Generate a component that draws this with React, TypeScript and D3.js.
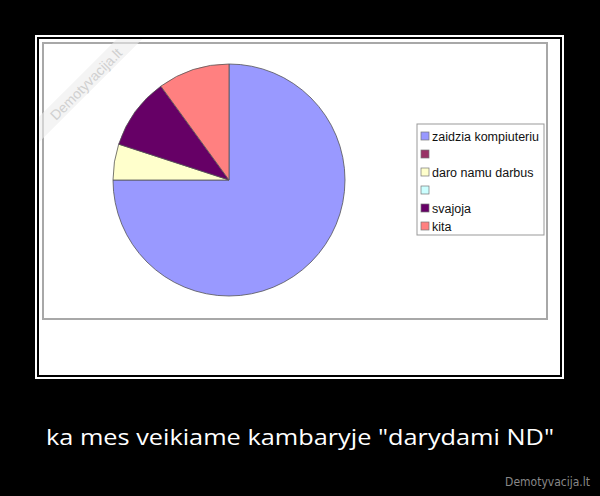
import { useEffect, useRef } from "react";
import * as d3 from "d3";

const categories = ["zaidzia kompiuteriu", "", "daro namu darbus", "", "svajoja", "kita"];
const values = [75, 0, 5, 0, 10, 10];
const colors = ["#9999FF", "#993366", "#FFFFCC", "#CCFFFF", "#660066", "#FF8080"];
const caption = 'ka mes veikiame kambaryje "darydami ND"';
const siteName = "Demotyvacija.lt";

export default function App() {
    const ref = useRef<SVGSVGElement | null>(null);

    useEffect(() => {
        const svg = d3.select(ref.current);
        svg.selectAll("*").remove();

        // black poster background
        svg.append("rect").attr("width", 600).attr("height", 496).attr("fill", "#000");

        // white frame line + white panel
        svg.append("rect")
            .attr("x", 36).attr("y", 36).attr("width", 527).attr("height", 342)
            .attr("fill", "none").attr("stroke", "#fff").attr("stroke-width", 2);
        svg.append("rect")
            .attr("x", 39).attr("y", 39).attr("width", 521).attr("height", 336)
            .attr("fill", "#fff");

        svg.append("clipPath").attr("id", "panel")
            .append("rect").attr("x", 39).attr("y", 39).attr("width", 521).attr("height", 336);

        // chart area border
        svg.append("rect")
            .attr("x", 43).attr("y", 43).attr("width", 504).attr("height", 276)
            .attr("fill", "none").attr("stroke", "#a8a8a8").attr("stroke-width", 2);

        // pie
        const cx = 229, cy = 180, r = 116;
        const data = categories.map((c, i) => ({ name: c, value: values[i], color: colors[i] }));
        const pie = d3.pie<any>().value((d: any) => d.value).sort(null).startAngle(0).endAngle(2 * Math.PI);
        const arc = d3.arc<any>().innerRadius(0).outerRadius(r);

        svg.append("g")
            .attr("transform", `translate(${cx},${cy})`)
            .selectAll("path")
            .data(pie(data).filter((d) => d.data.value > 0))
            .join("path")
            .attr("d", arc)
            .attr("fill", (d) => d.data.color)
            .attr("stroke", "#555")
            .attr("stroke-width", 0.8);

        // legend
        const lx = 417, ly = 124, lw = 127, lh = 111;
        svg.append("rect")
            .attr("x", lx).attr("y", ly).attr("width", lw).attr("height", lh)
            .attr("fill", "#fff").attr("stroke", "#999").attr("stroke-width", 1);

        const rowY = d3.scaleLinear().domain([0, categories.length - 1]).range([136, 226]);
        const items = svg.append("g")
            .selectAll("g")
            .data(data)
            .join("g")
            .attr("transform", (d, i) => `translate(${lx + 4},${rowY(i)})`);
        items.append("rect")
            .attr("x", 0).attr("y", -4).attr("width", 8).attr("height", 8)
            .attr("fill", (d) => d.color).attr("stroke", "#777").attr("stroke-width", 0.7);
        items.append("text")
            .attr("x", 11).attr("y", 4.5)
            .attr("font-family", "Arial, 'Liberation Sans', sans-serif")
            .attr("font-size", 12.5)
            .attr("fill", "#111")
            .text((d) => d.name);

        // watermark band in the corner
        const wm = svg.append("g").attr("clip-path", "url(#panel)")
            .append("g").attr("transform", "translate(86,84) rotate(-45)");
        wm.append("rect")
            .attr("x", -90).attr("y", -10).attr("width", 180).attr("height", 18)
            .attr("fill", "#ededed").attr("opacity", 0.6);
        wm.append("text")
            .attr("x", 0).attr("y", 5)
            .attr("text-anchor", "middle")
            .attr("font-family", "Arial, 'Liberation Sans', sans-serif")
            .attr("font-size", 14)
            .attr("fill", "#d0d0d0")
            .text(siteName);

        // caption
        svg.append("text")
            .attr("x", 300).attr("y", 445)
            .attr("text-anchor", "middle")
            .attr("font-family", "'Open Sans', sans-serif")
            .attr("font-size", 22)
            .attr("font-weight", 500)
            .attr("fill", "#fff")
            .attr("textLength", 508)
            .attr("lengthAdjust", "spacingAndGlyphs")
            .text(caption);

        svg.append("text")
            .attr("x", 590).attr("y", 486)
            .attr("text-anchor", "end")
            .attr("font-family", "'DejaVu Sans Condensed', 'Liberation Sans', sans-serif")
            .attr("font-size", 12)
            .attr("fill", "#888")
            .text(siteName);
    }, []);

    return (
        <svg ref={ref} width={600} height={496}
            style={{ position: "absolute", left: 0, top: 0, display: "block" }} />
    );
}
